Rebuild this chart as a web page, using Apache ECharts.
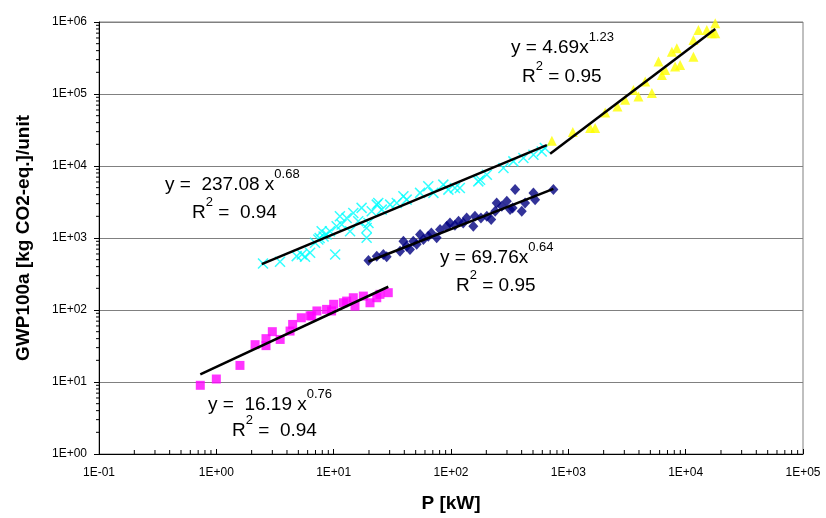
<!DOCTYPE html>
<html>
<head>
<meta charset="utf-8">
<script src="https://cdn.jsdelivr.net/npm/echarts@6/dist/echarts.min.js"></script>
<style>html,body{margin:0;padding:0;background:#fff}#c{width:826px;height:518px}</style>
</head>
<body>
<div id="c"></div>
<script>
// ---- data ----
const magentaData = [[0.73,9.0],[1.0,11],[1.59,17],[2.14,33],[2.65,32],[2.65,40],[3.0,50],[3.5,39],[4.25,51],[4.47,63],[5.3,78],[6.3,83],[6.5,83],[7.2,97],[8.7,102],[9.6,97],[10,120],[12.1,126],[12.9,133],[14.7,148],[15.2,113],[17.9,156],[20.4,126],[23.3,148],[24.8,165],[29.2,174]];
const cyanData = [[2.5,443],[3.49,468],[4.84,560],[5.35,590],[5.7,550],[6.3,624],[6.94,860],[7.4,952],[7.6,1000],[7.9,1240],[8.2,1050],[8.7,1117],[9.3,1240],[10.3,590],[10.6,1456],[11.3,2000],[11.7,1537],[12.9,1900],[13.8,1240],[14.7,2230],[16.2,1710],[17.3,2620],[19.1,1005],[19.1,1380],[19.8,1620],[21.1,2350],[23.3,2910],[24,3070],[25.7,2480],[30.3,2910],[34.5,3070],[39.3,3800],[41.9,3410],[54.5,4230],[64,5220],[70.8,4230],[86,5510],[95,4700],[108,4950],[119,4960],[171,6120],[177,6460],[202,7580],[280,9380],[340,11600],[414,12900],[504,14350],[593,15900],[631,17800]];
const navyData = [[19.8,488],[23.3,560],[26.5,590],[28.3,547],[36.8,656],[39.3,902],[41.9,770],[44.7,692],[47.7,902],[51,820],[54.5,1117],[58.2,952],[64,1060],[68,1175],[75.5,1005],[80.7,1310],[92,1456],[98,1620],[108,1500],[116,1710],[127,1620],[136,1900],[155,1456],[160,2000],[180,1900],[202,2000],[220,1800],[238,2350],[245,3070],[271,2760],[299,3240],[319,2480],[335,2600],[352,4700],[401,2350],[428,3070],[504,4230],[521,3410],[746,4700]];
const yellowData = [[724,22400],[1092,29600],[1534,33600],[1692,33600],[2060,55400],[2620,67000],[3050,83000],[3590,114000],[3960,92200],[4520,149000],[5150,103000],[5870,282000],[6270,184000],[6690,216000],[7630,387000],[8410,431000],[8130,240000],[8970,253000],[11650,330000],[11650,562000],[12850,774000],[15140,774000],[16700,697000],[17870,959000],[17870,697000]];

// power-law trendlines y = a * x^b, drawn between the read x range
const trendCoefA = [16.19, 237.08, 69.76, 4.69];
const trendCoefB = [0.76, 0.68, 0.64, 1.23];
const trendXStart = [0.73, 2.44, 19.8, 700];
const trendXEnd = [29.2, 656, 746, 17870];

const xTickLabels = ['1E-01','1E+00','1E+01','1E+02','1E+03','1E+04','1E+05'];
const yTickLabels = ['1E+00','1E+01','1E+02','1E+03','1E+04','1E+05','1E+06'];

const eqBase = ['y =  16.19 x', 'y =  237.08 x', 'y = 69.76x', 'y = 4.69x'];
const eqSup = ['0.76', '0.68', '0.64', '1.23'];
const r2Text = [' =  0.94', ' =  0.94', ' = 0.95', ' = 0.95'];

// ---- chart ----
const FONT = '"Liberation Sans", Arial, sans-serif';
const chart = echarts.init(document.getElementById('c'), null, {renderer: 'canvas'});

function trendLine(i) {
  const a = trendCoefA[i], b = trendCoefB[i];
  return [trendXStart[i], trendXEnd[i]].map(x => [x, a * Math.pow(x, b)]);
}

function minorVals(lo, hi) {
  const out = [];
  for (let k = lo; k < hi; k++) for (let m = 2; m <= 9; m++) out.push(m * Math.pow(10, k));
  return out;
}

const rich = {
  b: {fontSize: 19, fontFamily: FONT, lineHeight: 34, fill: '#000'},
  s: {fontSize: 13, fontFamily: FONT, lineHeight: 13, verticalAlign: 'top', fill: '#000'}
};
const eqPos = [[208, 405, 232, 431], [165, 185, 192, 213], [440, 258, 456, 286], [511, 48, 522, 77]];
const graphics = [];
for (let i = 0; i < 4; i++) {
  const p = eqPos[i];
  graphics.push({type: 'text', x: p[0], y: p[1], z: 100,
    style: {text: '{b|' + eqBase[i] + '}{s|' + eqSup[i] + '}', rich: rich, verticalAlign: 'middle', align: 'left'}});
  graphics.push({type: 'text', x: p[2], y: p[3], z: 100,
    style: {text: '{b|R}{s|2}{b|' + r2Text[i] + '}', rich: rich, verticalAlign: 'middle', align: 'left'}});
}

const expLabel = (labels, offset) => v => {
  const e = Math.round(Math.log10(v));
  return labels[e + offset] || '';
};

const option = {
  animation: false,
  backgroundColor: '#fff',
  grid: {left: 99, right: 23, top: 22, bottom: 63, show: true, borderColor: '#808080', borderWidth: 1},
  xAxis: {
    type: 'log', logBase: 10, min: 0.1, max: 100000, interval: 1,
    name: 'P [kW]', nameLocation: 'middle', nameGap: 40,
    nameTextStyle: {fontFamily: FONT, fontSize: 19, fontWeight: 'bold', color: '#000'},
    axisLine: {show: true, lineStyle: {color: '#000', width: 1}},
    axisTick: {show: true, inside: true, length: 5, lineStyle: {color: '#000'}},
    axisLabel: {fontFamily: FONT, fontSize: 12, color: '#000', margin: 13, formatter: expLabel(xTickLabels, 1)},
    splitLine: {show: false}
  },
  yAxis: {
    type: 'log', logBase: 10, min: 1, max: 1000000, interval: 1,
    name: 'GWP100a [kg CO2-eq.]/unit', nameLocation: 'middle', nameGap: 66,
    nameTextStyle: {fontFamily: FONT, fontSize: 19, fontWeight: 'bold', color: '#000'},
    axisLine: {show: true, lineStyle: {color: '#000', width: 1}},
    axisTick: {show: true, inside: false, length: 5, lineStyle: {color: '#000'}},
    axisLabel: {fontFamily: FONT, fontSize: 12, color: '#000', margin: 12, formatter: expLabel(yTickLabels, 0)},
    splitLine: {show: true, lineStyle: {color: '#808080', width: 1}}
  },
  graphic: graphics,
  series: [
    {type: 'scatter', data: magentaData, symbol: 'rect', symbolSize: 9,
      itemStyle: {color: '#FF00FF'}, z: 3},
    {type: 'scatter', data: cyanData, symbol: 'path://M0,0L10,10M10,0L0,10', symbolSize: 10,
      itemStyle: {color: 'rgba(0,0,0,0)', borderColor: '#00FFFF', borderWidth: 1.5}, z: 3},
    {type: 'scatter', data: navyData, symbol: 'diamond', symbolSize: [10, 11],
      itemStyle: {color: '#000080'}, z: 3},
    {type: 'scatter', data: yellowData, symbol: 'triangle', symbolSize: 10,
      itemStyle: {color: '#FFFF00'}, z: 3},
    ...[0, 1, 2, 3].map(i => ({type: 'line', data: trendLine(i), symbol: 'none', z: 5,
      lineStyle: {color: '#000', width: 2.5}, silent: true})),
    {type: 'custom', z: 6, clip: false, silent: true,
      data: minorVals(-1, 5).map(v => [v, 1]),
      renderItem: (params, api) => {
        const p = api.coord([api.value(0), api.value(1)]);
        return {type: 'line', shape: {x1: p[0], y1: p[1], x2: p[0], y2: p[1] - 4}, style: {stroke: '#000', lineWidth: 1}};
      }},
    {type: 'custom', z: 6, clip: false, silent: true,
      data: minorVals(0, 6).map(v => [0.1, v]),
      renderItem: (params, api) => {
        const p = api.coord([api.value(0), api.value(1)]);
        return {type: 'line', shape: {x1: p[0], y1: p[1], x2: p[0] - 3, y2: p[1]}, style: {stroke: '#000', lineWidth: 1}};
      }}
  ]
};
chart.setOption(option);
</script>
</body>
</html>
